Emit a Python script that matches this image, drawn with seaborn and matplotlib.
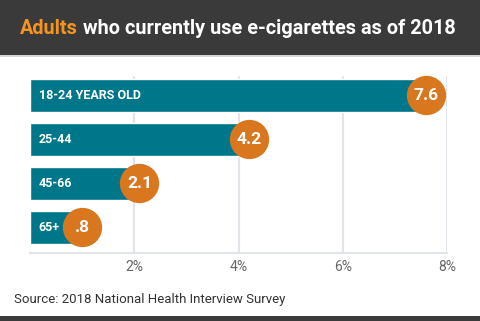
import matplotlib
matplotlib.use("Agg")
import matplotlib.pyplot as plt
import seaborn as sns
import pandas as pd
from matplotlib.patches import Rectangle

categories = ["18-24 YEARS OLD", "25-44", "45-66", "65+"]
values = [7.6, 4.2, 2.1, 0.8]
value_labels = ["7.6", "4.2", "2.1", ".8"]
xticks = [2, 4, 6, 8]
xtick_labels = ["2%", "4%", "6%", "8%"]

TEAL = "#00768a"
ORANGE = "#d9771f"
TITLE_ORANGE = "#f7941d"
DARK = "#3b3a3b"
GRID = "#dfe5ea"

sns.set_theme(style="white")
plt.rcParams["font.family"] = ["Roboto", "DejaVu Sans"]

df = pd.DataFrame({"age": categories, "pct": values})

W, H = 480, 321
fig = plt.figure(figsize=(W / 100, H / 100), dpi=100)
fig.patch.set_facecolor("white")

# header bar
fig.add_artist(Rectangle((0, 1 - 55 / H), 1, 55 / H, transform=fig.transFigure,
                         facecolor=DARK, edgecolor="none", zorder=0))
fig.add_artist(Rectangle((0, 1 - 56.5 / H), 1, 1.5 / H, transform=fig.transFigure,
                         facecolor="#d6d6d6", edgecolor="none", zorder=0))
# footer bar
fig.add_artist(Rectangle((0, 0), 1, 5 / H, transform=fig.transFigure,
                         facecolor=DARK, edgecolor="none", zorder=0))

ax_left, ax_right = 30 / W, 447 / W
ax_bottom = 1 - 253 / H
ax_top = 1 - 75.7 / H
ax = fig.add_axes([ax_left, ax_bottom, ax_right - ax_left, ax_top - ax_bottom])

sns.barplot(data=df, x="pct", y="age", orient="h", color=TEAL, width=0.735,
            saturation=1, ax=ax, zorder=2)

ax.set_xlim(0, 8)
ax.set_ylim(3.58, -0.45)
ax.set_xlabel("")
ax.set_ylabel("")
ax.set_yticks([])
ax.set_xticks(xticks)
ax.set_xticklabels(xtick_labels, color="#666666", fontsize=10)
ax.tick_params(axis="x", length=0, pad=5)
for x in xticks:
    ax.axvline(x, color=GRID, lw=1.5, zorder=0)
for s in ["top", "right", "left"]:
    ax.spines[s].set_visible(False)
ax.spines["bottom"].set_color(GRID)
ax.spines["bottom"].set_linewidth(1.5)

for i, (cat, v, lab) in enumerate(zip(categories, values, value_labels)):
    ax.text(0.17, i, cat, color="white", fontsize=9, fontweight="bold",
            va="center", ha="left", zorder=4)
    cx = max(v, 1.0)
    ax.scatter([cx], [i], s=800, color=ORANGE, zorder=5, clip_on=False, linewidths=0)
    ax.text(cx, i, lab, color="white", fontsize=12.5, fontweight="bold",
            va="center", ha="center", zorder=6)

# title with two colours
fig.canvas.draw()
renderer = fig.canvas.get_renderer()
t1 = fig.text(20 / W, 1 - 29 / H, "Adults", color=TITLE_ORANGE, fontsize=14.3,
              fontweight="bold", va="center", ha="left")
bb = t1.get_window_extent(renderer=renderer)
fig.text((bb.x1 + 5) / W, 1 - 29 / H, "who currently use e-cigarettes as of 2018",
         color="white", fontsize=14.3, fontweight="bold", va="center", ha="left")

fig.text(14 / W, 1 - 299 / H, "Source: 2018 National Health Interview Survey",
         color="#333333", fontsize=9.5, va="center", ha="left")

fig.savefig("out.png", dpi=100, facecolor="white")
